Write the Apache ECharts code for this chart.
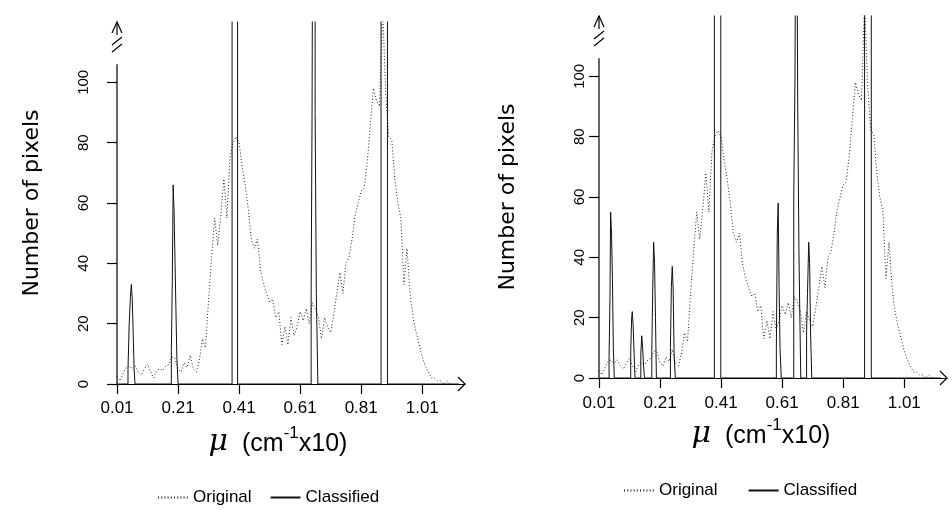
<!DOCTYPE html>
<html>
<head>
<meta charset="utf-8">
<script src="https://cdn.jsdelivr.net/npm/echarts@6/dist/echarts.min.js"></script>
<style>
html,body{margin:0;padding:0;background:#fff;}
#c{width:952px;height:510px;}
</style>
</head>
<body>
<div id="c"></div>
<script>
// ---------- data ----------
const xTicks = [0.01, 0.21, 0.41, 0.61, 0.81, 1.01];
const yTicks = [0, 20, 40, 60, 80, 100];

// Original histogram, bins 0.01 ... 1.10 (step 0.01)
const origStart = 0.01;
const origStep = 0.01;
const origCounts = [
  2.5, 1, 3.5, 5.5, 6, 5, 6, 4, 3, 5,
  6.5, 4, 2, 4.5, 5, 4.5, 6, 6.5, 9, 8.5,
  5, 4, 7, 5.5, 9.5, 5, 4, 8, 15, 12,
  28, 42, 55, 46, 56, 68, 55, 75, 80, 82,
  80, 72, 66, 58, 48, 45, 48, 38, 33, 30,
  27, 28, 22, 24, 13, 19, 13, 22, 16, 19,
  24, 21, 25, 20, 27, 25, 22, 15, 22, 19,
  17, 23, 30, 37, 30, 40, 42, 48, 56, 60,
  64, 65, 74, 86, 98, 94, 92, 125, 97, 82,
  81, 68, 60, 55, 33, 45, 30, 22, 17, 13,
  9, 6, 4, 2, 2, 1, 1, 0, 1, 0
];

// Classified histogram (left panel): bin start positions and counts
const classLeftMu = [0.01,
  0.046, 0.050, 0.054, 0.057, 0.060, 0.063, 0.066, 0.069,
  0.188, 0.191, 0.194, 0.197, 0.200, 0.203, 0.206, 0.210,
  0.387, 0.405,
  0.646, 0.649, 0.652, 0.659, 0.663, 0.668,
  0.875, 0.896,
  1.13];
const classLeftCount = [0,
  5, 20, 29, 33, 28, 17, 5, 0,
  11, 33, 66, 57, 41, 25, 9, 0,
  200, 0,
  30, 90, 200, 90, 30, 0,
  200, 0,
  0];

// Classified histogram (right panel)
const classRightMu = [0.01,
  0.043, 0.046, 0.048, 0.051, 0.054, 0.057, 0.060,
  0.114, 0.117, 0.119, 0.122, 0.125, 0.128,
  0.147, 0.150, 0.153, 0.156, 0.159,
  0.183, 0.186, 0.189, 0.192, 0.195, 0.198,
  0.244, 0.247, 0.250, 0.253, 0.256, 0.260,
  0.388, 0.409,
  0.591, 0.594, 0.597, 0.600, 0.603, 0.607,
  0.648, 0.652, 0.656, 0.661, 0.665, 0.668, 0.671,
  0.690, 0.693, 0.697, 0.700, 0.703, 0.707,
  0.880, 0.902,
  1.13];
const classRightCount = [0,
  7, 27, 55, 48, 33, 10, 0,
  9, 20, 22, 17, 8, 0,
  8, 14, 10, 4, 0,
  9, 29, 45, 38, 20, 0,
  10, 30, 37, 29, 8, 0,
  200, 0,
  10, 48, 58, 30, 10, 0,
  60, 100, 200, 90, 42, 20, 0,
  15, 28, 45, 38, 15, 0,
  200, 0,
  0];

const X_MIN = 0.01, X_MAX = 1.15, Y_MAX = 120, Y_AXIS_TOP = 106;

// ---------- build ----------
const FONT = "'Liberation Sans', Arial, Helvetica, sans-serif";
const origData = origCounts.map((c, i) => [+(origStart + i * origStep).toFixed(2), c]);
const zip = (a, b) => a.map((v, i) => [v, b[i]]);
const classData = [zip(classLeftMu, classLeftCount), zip(classRightMu, classRightCount)];

const panels = [
  {grid: {left: 117, top: 22, width: 348, height: 362}, labelMargin: 26, xLabelMargin: 16, nameGap: 74,
   title: [278, 441], legend: {left: 152, top: 484, gap: 18}},
  {grid: {left: 599, top: 16, width: 348, height: 362}, labelMargin: 12, xLabelMargin: 17, nameGap: 80,
   title: [761, 433], legend: {left: 618, top: 477, gap: 30}}
];

const chart = echarts.init(document.getElementById('c'), null, {renderer: 'canvas'});

const option = {
  animation: false,
  backgroundColor: '#fff',
  grid: panels.map(p => Object.assign({containLabel: false}, p.grid)),
  xAxis: panels.map((p, i) => ({
    type: 'value', gridIndex: i, min: X_MIN, max: X_MAX,
    axisLine: {show: true, lineStyle: {color: '#000', width: 1.2}},
    axisTick: {show: true, length: 10, customValues: xTicks, lineStyle: {color: '#000', width: 1.2}},
    axisLabel: {customValues: xTicks, formatter: v => v.toFixed(2), fontSize: 17, color: '#000',
      fontFamily: FONT, margin: p.xLabelMargin},
    splitLine: {show: false}
  })),
  yAxis: panels.map((p, i) => ({
    type: 'value', gridIndex: i, min: 0, max: Y_MAX,
    name: 'Number of pixels', nameLocation: 'middle', nameRotate: 90, nameGap: p.nameGap,
    nameTextStyle: {fontSize: 22, color: '#000', fontFamily: "'DejaVu Sans', sans-serif"},
    axisLine: {show: false},
    axisTick: {show: true, length: 10, customValues: yTicks, lineStyle: {color: '#000', width: 1.2}},
    axisLabel: {customValues: yTicks, rotate: 90, fontSize: 15, color: '#000', fontFamily: FONT,
      margin: p.labelMargin},
    splitLine: {show: false}
  })),
  legend: panels.map(p => ({
    left: p.legend.left, top: p.legend.top, itemWidth: 30, itemHeight: 12, itemGap: p.legend.gap,
    data: ['Original', 'Classified'],
    itemStyle: {opacity: 0},
    textStyle: {fontSize: 17, color: '#000', fontFamily: FONT},
    selectedMode: false
  })),
  series: []
};

panels.forEach((p, i) => {
  option.series.push({
    name: 'Original', type: 'line', xAxisIndex: i, yAxisIndex: i, data: origData,
    symbol: 'none', showSymbol: false, clip: true,
    itemStyle: {color: '#000'},
    lineStyle: {color: '#222', width: 1, type: [1, 2.2]}, z: 3
  });
  option.series.push({
    name: 'Classified', type: 'line', step: 'end', xAxisIndex: i, yAxisIndex: i, data: classData[i],
    symbol: 'none', showSymbol: false, clip: true,
    itemStyle: {color: '#000'},
    lineStyle: {color: '#111', width: 1}, z: 4
  });
});

chart.setOption(option);

// ---------- axis decorations (broken y axis, arrow heads, x-axis titles) ----------
const graphics = [];
const ls = {stroke: '#000', lineWidth: 1.2, fill: null};
panels.forEach((p, i) => {
  const o = chart.convertToPixel({gridIndex: i}, [X_MIN, 0]);
  const yt = chart.convertToPixel({gridIndex: i}, [X_MIN, Y_AXIS_TOP]);
  const ya = chart.convertToPixel({gridIndex: i}, [X_MIN, Y_MAX]);
  const xa = chart.convertToPixel({gridIndex: i}, [X_MAX, 0]);
  graphics.push({type: 'line', shape: {x1: o[0], y1: o[1], x2: yt[0], y2: yt[1]}, style: ls, z: 10});
  graphics.push({type: 'line', shape: {x1: ya[0], y1: ya[1], x2: ya[0], y2: ya[1] + 13}, style: ls, z: 10});
  graphics.push({type: 'polyline', shape: {points: [[ya[0] - 5, ya[1] + 11], [ya[0], ya[1]], [ya[0] + 5, ya[1] + 11]]},
    style: ls, z: 10});
  [18, 25].forEach(d => {
    graphics.push({type: 'line', shape: {x1: ya[0] - 5, y1: ya[1] + d + 5, x2: ya[0] + 5, y2: ya[1] + d - 3},
      style: ls, z: 10});
  });
  graphics.push({type: 'polyline', shape: {points: [[xa[0] - 7, xa[1] - 7], [xa[0], xa[1]], [xa[0] - 7, xa[1] + 7]]},
    style: ls, z: 10});
  graphics.push({
    type: 'text', x: p.title[0], y: p.title[1], z: 10,
    style: {
      text: '{mu|μ}{n|  (cm}{sup|-1}{n|x10)}',
      align: 'center', verticalAlign: 'middle',
      rich: {
        mu: {fontSize: 30, fontStyle: 'italic', fontFamily: "'DejaVu Serif', serif", fill: '#000',
             lineHeight: 32, verticalAlign: 'bottom'},
        n: {fontSize: 25, fontFamily: FONT, fill: '#000', lineHeight: 27, verticalAlign: 'bottom'},
        sup: {fontSize: 17, fontFamily: FONT, fill: '#000', lineHeight: 16, verticalAlign: 'top'}
      }
    }
  });
});
chart.setOption({graphic: graphics});
</script>
</body>
</html>
